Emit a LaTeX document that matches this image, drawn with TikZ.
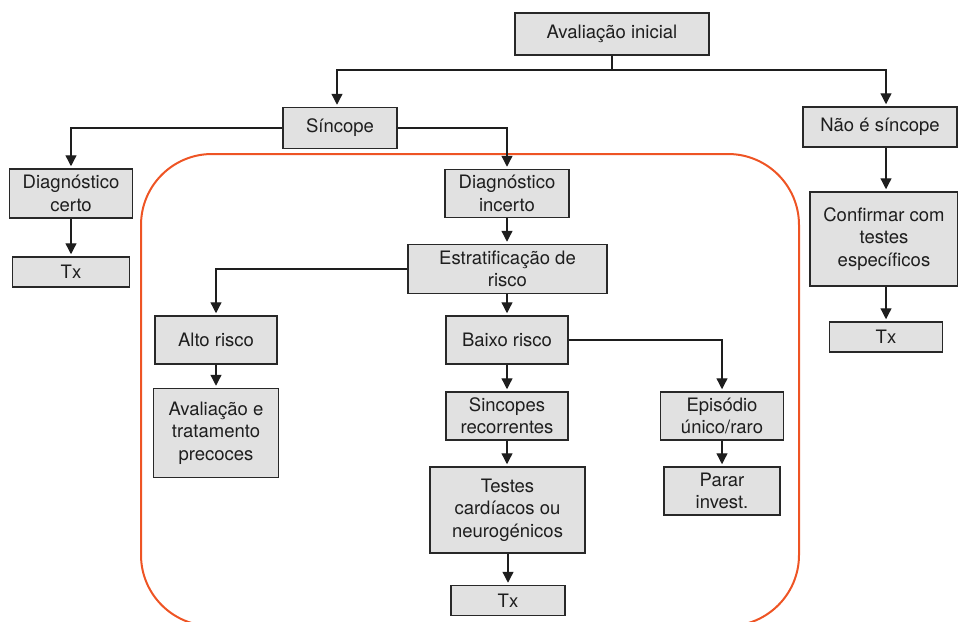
\documentclass[tikz,border=0pt]{standalone}
\usepackage{fontspec}
\setmainfont{TeX Gyre Heros}
\usetikzlibrary{arrows.meta}
\definecolor{boxfill}{RGB}{225,225,225}
\definecolor{boxline}{RGB}{40,40,40}
\definecolor{framecol}{RGB}{238,84,36}
\definecolor{inkcol}{RGB}{30,30,30}
\begin{document}
\begin{tikzpicture}[x=1pt,y=-1pt,
  box/.style={draw=boxline, fill=boxfill, line width=1.5pt, align=center,
    inner sep=0pt, text=inkcol, font=\fontsize{18.5}{22.3}\selectfont},
  link/.style={draw=inkcol, line width=1.3pt},
  arr/.style={link, -{Triangle[width=11pt,length=11pt]}, shorten >=2pt},
  frame/.style={draw=framecol, line width=2pt, rounded corners=71pt}]
\useasboundingbox (0,0) rectangle (958,621);

% rounded frame around the uncertain-diagnosis branch (runs past the lower edge)
\begin{scope}
  \clip (0,0) rectangle (958,621);
  \draw[frame] (141,154) rectangle (799,626);
\end{scope}

% boxes
\node[box, minimum width=194, minimum height=42] (ini) at (612,34) {Avaliação inicial};
\node[box, minimum width=114, minimum height=41] (sin) at (340,128) {Síncope};
\node[box, minimum width=154, minimum height=40] (nao) at (880,127) {Não é síncope};
\node[box, minimum width=123, minimum height=49] (dcerto) at (71,193.5) {Diagnóstico\\certo};
\node[box, minimum width=117, minimum height=30] (txl) at (71,272) {Tx};
\node[box, minimum width=124, minimum height=48] (dinc) at (507,193.5) {Diagnóstico\\incerto};
\node[box, minimum width=199, minimum height=49] (estr) at (507.5,269) {Estratificação de\\risco};
\node[box, minimum width=122, minimum height=48] (alto) at (216,340) {Alto risco};
\node[box, minimum width=125, minimum height=89] (avtr) at (216,433) {Avaliação e\\tratamento\\precoces};
\node[box, minimum width=122, minimum height=48] (baixo) at (507,340) {Baixo risco};
\node[box, minimum width=122, minimum height=48] (recor) at (507,416) {Sincopes\\recorrentes};
\node[box, minimum width=123, minimum height=48] (epi) at (722,416) {Episódio\\único/raro};
\node[box, minimum width=155, minimum height=86] (testes) at (507.5,510) {Testes\\cardíacos ou\\neurogénicos};
\node[box, minimum width=116, minimum height=48] (parar) at (722,491) {Parar\\invest.};
\node[box, minimum width=114, minimum height=30] (txc) at (508,600.5) {Tx};
\node[box, minimum width=148, minimum height=94] (conf) at (884,239) {Confirmar com\\testes\\específicos};
\node[box, minimum width=113, minimum height=30] (txr) at (886,337) {Tx};

% connectors
\coordinate (bus) at (612,70);
\draw[link] (ini.south) -- (bus);
\draw[arr] (bus) -| ([xshift=-3pt]sin.north);
\draw[arr] (bus) -| (nao.north -| txr.north);
\draw[arr] (sin.west) -| (dcerto.north);
\draw[arr] (sin.east) -| (dinc.north);
\draw[arr] (dcerto.south) -- (txl.north);
\draw[arr] (dinc.south) -- (dinc.south |- estr.north);
\draw[arr] (estr.west) -| (alto.north);
\draw[arr] (estr.south -| baixo.north) -- (baixo.north);
\draw[arr] (alto.south) -- (avtr.north);
\draw[arr] (baixo.south) -- (recor.north);
\draw[arr] (baixo.east) -| (epi.north);
\draw[arr] (recor.south) -- (recor.south |- testes.north);
\draw[arr] (testes.south -| txc.north) -- (txc.north);
\draw[arr] (epi.south) -- (parar.north);
\draw[arr] (nao.south -| txr.north) -- (conf.north -| txr.north);
\draw[arr] (conf.south -| txr.north) -- (txr.north);
\end{tikzpicture}
\end{document}
